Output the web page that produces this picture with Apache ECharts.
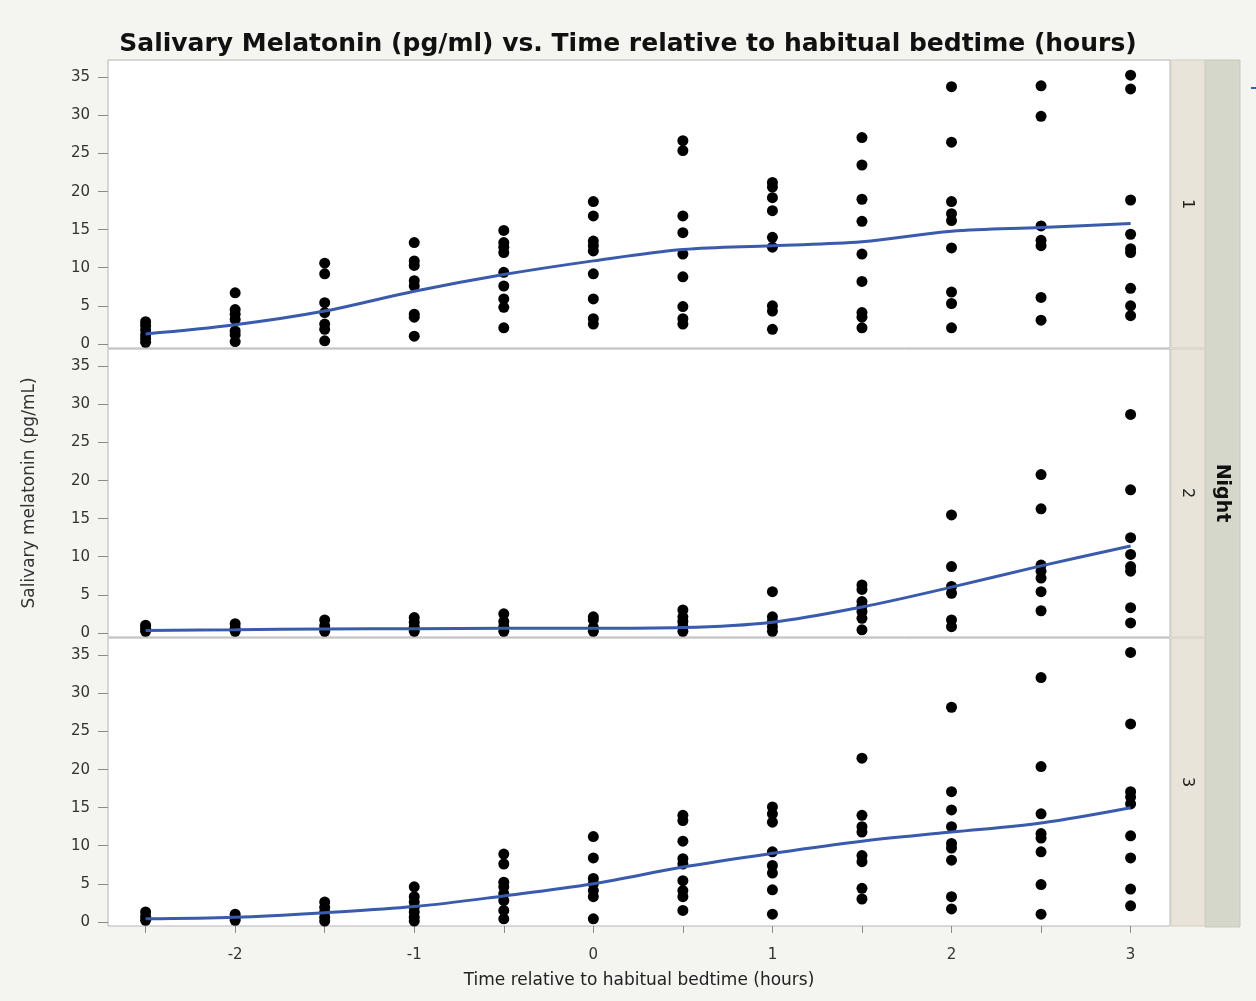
<!DOCTYPE html>
<html><head><meta charset="utf-8">
<script src="https://cdn.jsdelivr.net/npm/echarts@6/dist/echarts.min.js"></script>
<style>html,body{margin:0;padding:0;background:#f4f4f0;}#c{width:1256px;height:1001px;}</style>
</head><body><div id="c"></div>
<script>
const titleText = 'Salivary Melatonin (pg/ml) vs. Time relative to habitual bedtime (hours)';
const xName = 'Time relative to habitual bedtime (hours)';
const yName = 'Salivary melatonin (pg/mL)';
const facetName = 'Night';
const nights = ['1', '2', '3'];
const times = [-2.5, -2, -1.5, -1, -0.5, 0, 0.5, 1, 1.5, 2, 2.5, 3];
const xTickValues = [-2.5, -2, -1.5, -1, -0.5, 0, 0.5, 1, 1.5, 2, 2.5, 3];
const xLabelValues = [-2, -1, 0, 1, 2, 3];
const yLabelValues = [0, 5, 10, 15, 20, 25, 30, 35];

// observed melatonin values, one list per time point
const night1 = [
  [2.9, 2.4, 1.8, 1.2, 0.7, 0.2],
  [6.7, 4.5, 3.9, 3.2, 1.7, 1.2, 0.3],
  [10.6, 9.2, 5.4, 4.1, 2.6, 1.9, 0.4],
  [13.3, 10.9, 10.3, 8.3, 7.6, 3.9, 3.5, 1.0],
  [14.9, 13.3, 12.7, 12.0, 9.4, 7.6, 5.9, 4.8, 2.1],
  [18.7, 16.8, 13.5, 12.9, 12.2, 9.2, 5.9, 3.3, 2.6],
  [26.7, 25.4, 16.8, 14.6, 11.8, 8.8, 4.9, 3.3, 2.6],
  [21.2, 20.6, 19.2, 17.5, 14.0, 12.7, 5.0, 4.3, 1.9],
  [27.1, 23.5, 19.0, 16.1, 11.8, 8.2, 4.1, 3.5, 2.1],
  [33.8, 26.5, 18.7, 17.1, 16.2, 12.6, 6.8, 5.3, 2.1],
  [33.9, 29.9, 15.5, 13.6, 12.9, 6.1, 3.1],
  [35.3, 33.5, 18.9, 14.4, 12.5, 12.0, 7.3, 5.0, 3.7]
];
const night2 = [
  [1.0, 0.6, 0.2],
  [1.2, 0.6, 0.2],
  [1.7, 0.9, 0.2],
  [2.0, 1.4, 0.8, 0.2],
  [2.5, 1.5, 0.8, 0.2],
  [2.1, 1.7, 0.7, 0.2],
  [3.0, 2.1, 1.5, 0.8, 0.2],
  [5.4, 2.1, 1.5, 0.8, 0.2],
  [6.3, 5.7, 4.1, 3.5, 2.8, 1.9, 0.4],
  [15.5, 8.7, 6.1, 5.2, 1.7, 0.8],
  [20.8, 16.3, 8.9, 8.1, 7.2, 5.4, 2.9],
  [28.7, 18.8, 12.5, 10.3, 8.7, 8.1, 3.3, 1.3]
];
const night3 = [
  [1.3, 0.7, 0.2],
  [1.0, 0.5, 0.2],
  [2.6, 1.9, 1.3, 0.6, 0.1],
  [4.6, 3.3, 2.6, 1.9, 1.3, 0.6, 0.1],
  [8.9, 7.6, 5.2, 4.6, 3.7, 2.8, 1.5, 0.4],
  [11.2, 8.4, 5.7, 5.0, 4.1, 3.3, 0.4],
  [14.0, 13.3, 10.6, 8.3, 7.6, 5.4, 4.1, 3.3, 1.5],
  [15.1, 14.2, 13.1, 9.2, 7.4, 6.4, 4.2, 1.0],
  [21.5, 14.0, 12.5, 11.8, 8.7, 7.9, 4.4, 3.0],
  [28.2, 17.1, 14.7, 12.5, 10.3, 9.7, 8.1, 3.3, 1.7],
  [32.1, 20.4, 14.2, 11.6, 11.0, 9.2, 4.9, 1.0],
  [35.4, 26.0, 17.1, 16.4, 15.5, 11.3, 8.4, 4.3, 2.1]
];
// smoother curve values at each time point
const night1Smooth = [1.3, 2.5, 4.3, 6.9, 9.1, 10.9, 12.4, 12.9, 13.4, 14.8, 15.3, 15.8];
const night2Smooth = [0.3, 0.4, 0.5, 0.55, 0.6, 0.6, 0.7, 1.4, 3.4, 6.0, 8.8, 11.4];
const night3Smooth = [0.4, 0.6, 1.2, 2.0, 3.4, 5.0, 7.2, 9.0, 10.6, 11.8, 13.0, 15.0];

const obs = [night1, night2, night3];
const smooths = [night1Smooth, night2Smooth, night3Smooth];

const FONT = '"DejaVu Sans", Verdana, sans-serif';
const BLUE = '#3a5aab';
const gridTops = [60, 349, 638];
const GH = 288, GL = 108, GW = 1062;

const grids = [], xAxes = [], yAxes = [], series = [];
gridTops.forEach((top, i) => {
  const last = i === gridTops.length - 1;
  grids.push({left: GL, top: top, width: GW, height: GH, show: true,
    backgroundColor: '#ffffff', borderColor: '#b4b4b4', borderWidth: 1, containLabel: false});
  xAxes.push({type: 'value', gridIndex: i, min: -2.71, max: 3.22,
    splitLine: {show: false}, axisLine: {show: false, onZero: false},
    axisTick: {show: last, customValues: xTickValues, length: 7, lineStyle: {color: '#8a8a8a'}},
    axisLabel: {show: last, customValues: xLabelValues, margin: 22, fontSize: 15, color: '#333', fontFamily: FONT},
    name: last ? xName : '', nameLocation: 'middle', nameGap: 46,
    nameTextStyle: {fontSize: 17, color: '#222', fontFamily: FONT}});
  yAxes.push({type: 'value', gridIndex: i, min: -0.55, max: 37.3,
    splitLine: {show: false}, axisLine: {show: false, onZero: false},
    axisTick: {show: true, customValues: yLabelValues, length: 10, lineStyle: {color: '#8a8a8a'}},
    axisLabel: {customValues: yLabelValues, margin: 18, fontSize: 15, color: '#333', fontFamily: FONT},
    name: i === 1 ? yName : '', nameLocation: 'middle', nameGap: 70, nameRotate: 90,
    nameTextStyle: {fontSize: 17, color: '#333', fontFamily: FONT}});
  const pts = [];
  times.forEach((t, k) => obs[i][k].forEach(v => pts.push([t, v])));
  series.push({type: 'scatter', name: 'Night ' + nights[i], xAxisIndex: i, yAxisIndex: i,
    data: pts, symbol: 'circle', symbolSize: 11, itemStyle: {color: '#000', opacity: 1}, z: 3});
  series.push({type: 'line', name: 'Smoother ' + nights[i], xAxisIndex: i, yAxisIndex: i,
    data: times.map((t, k) => [t, smooths[i][k]]), smooth: 0.35, showSymbol: false,
    lineStyle: {color: BLUE, width: 3}, z: 4});
});

const graphics = [];
graphics.push({type: 'rect', shape: {x: 1205, y: 60, width: 35, height: 867},
  style: {fill: '#d6d7cb', stroke: '#c8c9bd'}});
graphics.push({type: 'text', x: 1222, y: 493, rotation: -Math.PI / 2,
  style: {text: facetName, font: 'bold 19px ' + FONT, fill: '#111', align: 'center', verticalAlign: 'middle'}});
gridTops.forEach((top, i) => {
  graphics.push({type: 'rect', shape: {x: 1171, y: top, width: 34, height: GH},
    style: {fill: '#e8e4da', stroke: '#d2cec4'}});
  graphics.push({type: 'text', x: 1187, y: top + GH / 2, rotation: -Math.PI / 2,
    style: {text: nights[i], font: '16px ' + FONT, fill: '#222', align: 'center', verticalAlign: 'middle'}});
});
graphics.push({type: 'line', shape: {x1: 1251, y1: 88, x2: 1256, y2: 88}, style: {stroke: BLUE, lineWidth: 2}});

const chart = echarts.init(document.getElementById('c'));
chart.setOption({
  backgroundColor: '#f4f4f0',
  animation: false,
  title: {text: titleText, left: 'center', top: 27,
    textStyle: {fontSize: 25, fontWeight: 'bold', color: '#111', fontFamily: FONT}},
  grid: grids, xAxis: xAxes, yAxis: yAxes, series: series, graphic: graphics
});
</script></body></html>
